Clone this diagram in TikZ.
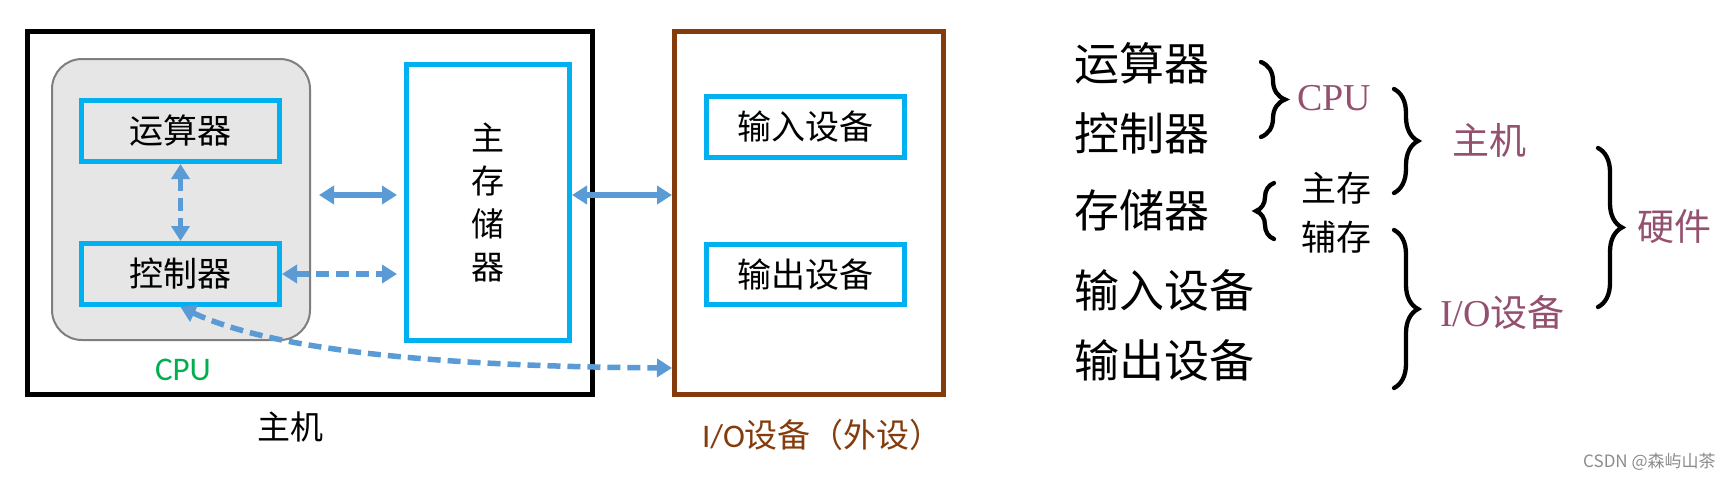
\documentclass[tikz,border=0pt]{standalone}
\usepackage{fontspec}
\setmainfont{Liberation Serif}
\newfontfamily\cjk{Noto Sans CJK SC}
\newfontfamily\calib{Carlito}
\usetikzlibrary{arrows.meta,decorations.pathreplacing}
\definecolor{cyanb}{HTML}{00B0F0}
\definecolor{arrowb}{HTML}{5B9BD5}
\definecolor{grayf}{HTML}{E6E6E6}
\definecolor{grayd}{HTML}{7F7F7F}
\definecolor{brownb}{HTML}{843C0C}
\definecolor{purp}{HTML}{94506F}
\definecolor{greenc}{HTML}{00B050}
\begin{document}
\begin{tikzpicture}[x=1pt,y=-1pt,
  cbox/.style={draw=cyanb,line width=5pt,inner sep=0pt,minimum width=198pt,minimum height=61pt,
    font=\cjk\fontsize{34}{40}\selectfont},
  sarr/.style={arrowb,line width=5.5pt,{Triangle[width=18pt,length=15pt]}-{Triangle[width=18pt,length=15pt]}},
  darr/.style={sarr,dash pattern=on 13pt off 7pt},
  brc/.style={decorate,decoration={brace,amplitude=#1},line width=4.3pt,line cap=round},
  lst/.style={anchor=west,inner sep=0pt,font=\cjk\fontsize{45}{50}\selectfont},
  cls/.style={anchor=west,inner sep=0pt,text=purp,font=\fontsize{38}{44}\selectfont}]
\useasboundingbox (0,0) rectangle (1735,480);
\fill[white] (0,0) rectangle (1735,480);
% host box
\node[draw=black,line width=5pt,minimum width=565pt,minimum height=363pt,inner sep=0pt] (host) at (310,213) {};
\node[draw=grayd,fill=grayf,line width=2pt,rounded corners=30pt,minimum width=258pt,minimum height=281pt,inner sep=0pt] (cpu) at (181,199.5) {};
\node[cbox] (alu) at (180.5,131) {运算器};
\node[cbox] (ctrl) at (180.5,274) {控制器};
\node[draw=cyanb,line width=5pt,minimum width=163pt,minimum height=276pt,inner sep=0pt,align=center,
  font=\cjk\fontsize{33}{43}\selectfont] (mem) at (488,202.5) {主\\存\\储\\器};
\node[text=greenc,font=\calib\fontsize{33}{38}\selectfont,inner sep=0pt] (cpulbl) at (183,370) {CPU};
\node[font=\cjk\fontsize{33}{38}\selectfont,inner sep=0pt] (hostlbl) at (290,427) {主机};
% io box
\node[draw=brownb,line width=5pt,minimum width=269pt,minimum height=363pt,inner sep=0pt] (io) at (809,213) {};
\node[cbox] (in) at (805.5,127) {输入设备};
\node[cbox,minimum height=60pt] (out) at (805.5,274.5) {输出设备};
\node[text=brownb,font=\cjk\fontsize{33}{38}\selectfont,inner sep=0pt] (iolbl) at (822.5,435) {{\calib I/O}设备（外设）};
% arrows
\draw[darr] (alu.south) -- (ctrl.north);
\draw[sarr] ([xshift=8pt,yshift=4.5pt]cpu.east) -- ([xshift=-7pt,yshift=4.5pt]cpu.east -| mem.west);
\draw[darr] (ctrl.east) -- ([xshift=-7pt]ctrl.east -| mem.west);
\draw[sarr] ([yshift=7.5pt]mem.east) -- ([yshift=7.5pt]mem.east -| io.west);
\draw[darr] (ctrl.south) .. controls (262,345) and (400,366) .. ([yshift=-155pt]io.west);
% right side classification
\node[lst] (l1) at (1074,63) {运算器};
\node[lst] (l2) at (1074,133) {控制器};
\node[lst] (l3) at (1074,210) {存储器};
\node[lst] (l4) at (1074,290) {输入设备};
\node[lst] (l5) at (1074,360) {输出设备};
\draw[brc=24pt] (1261,62) -- (1261,137);
\node[cls] (c1) at (1297,98) {CPU};
\draw[brc=18pt,decoration={mirror}] (1274,183) -- (1274,239);
\node[anchor=west,inner sep=0pt,align=left,font=\cjk\fontsize{35}{49}\selectfont] (c2) at (1301,212.5) {主存\\辅存};
\draw[brc=24pt] (1394,89) -- (1394,193);
\node[cls,font=\cjk\fontsize{37}{44}\selectfont] (c3) at (1452,140) {主机};
\draw[brc=24pt] (1394,230) -- (1394,388);
\node[cls,font=\cjk\fontsize{37}{44}\selectfont] (c4) at (1440,312) {{\rmfamily\fontsize{38}{44}\selectfont I/O}设备};
\draw[brc=24pt] (1598,148) -- (1598,307);
\node[cls,font=\cjk\fontsize{37}{44}\selectfont] (c5) at (1637,227) {硬件};
\node[anchor=west,inner sep=0pt,text=black!45,font=\cjk\fontsize{17}{20}\selectfont] (wm) at (1583,462) {CSDN @森屿山茶};
\end{tikzpicture}
\end{document}
